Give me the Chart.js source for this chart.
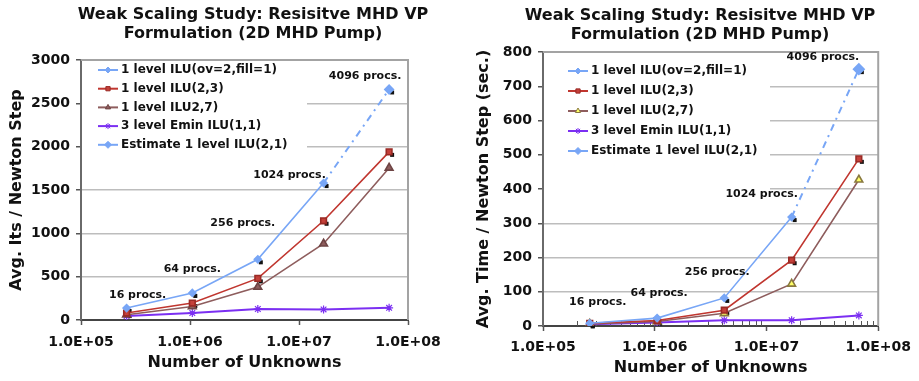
<!doctype html>
<html lang="en">
<head>
<meta charset="utf-8">
<title>Weak Scaling Study: Resisitve MHD VP Formulation</title>
<script src="https://cdn.jsdelivr.net/npm/chart.js"></script>
<style>
html, body { margin: 0; padding: 0; background: #ffffff; }
#wrap { position: relative; width: 919px; height: 381px; }
#left { position: absolute; left: 0; top: 0; }
#right { position: absolute; left: 460px; top: 0; }
</style>
</head>
<body>
<div id="wrap">
    <canvas id="left" width="460" height="381"></canvas>
    <canvas id="right" width="459" height="381"></canvas>
</div>
<script>
// shared data
const unknowns = [2.62e5, 1.05e6, 4.19e6, 1.68e7, 6.71e7];
const procLabels = ['16 procs.', '64 procs.', '256 procs.', '1024 procs.', '4096 procs.'];
const titleLines = ['Weak Scaling Study: Resisitve MHD VP', 'Formulation (2D MHD Pump)'];
const xTicks = [1e5, 1e6, 1e7, 1e8];
const xTitle = 'Number of Unknowns';

// left: iterations
const itsNames = ['1 level ILU(ov=2,fill=1)', '1 level ILU(2,3)', '1 level ILU2,7)', '3 level Emin ILU(1,1)', 'Estimate 1 level ILU(2,1)'];
const itsIlu21 = [138, 312, 700, 1580, null];
const itsIlu23 = [80, 196, 480, 1145, 1940];
const itsIlu27 = [60, 155, 380, 880, 1755];
const itsEmin = [45, 80, 127, 122, 140];
const itsEstimate = [null, null, null, 1580, 2660];
const itsTicks = [0, 500, 1000, 1500, 2000, 2500, 3000];

// right: time
const timeNames = ['1 level ILU(ov=2,fill=1)', '1 level ILU(2,3)', '1 level ILU(2,7)', '3 level Emin ILU(1,1)', 'Estimate 1 level ILU(2,1)'];
const timeIlu21 = [8, 23, 82, 318, null];
const timeIlu23 = [8, 16, 46, 192, 488];
const timeIlu27 = [6, 13, 37, 123, 427];
const timeEmin = [5, 10, 17, 17, 31];
const timeEstimate = [null, null, null, 318, 750];
const timeTicks = [0, 100, 200, 300, 400, 500, 600, 700, 800];

const FONT = '"DejaVu Sans", Verdana, sans-serif';
const INK = '#111111';
const BLUE = '#78a6f6';
const RED = '#c0362f';
const BROWN = '#8e5d5d';
const PURPLE = '#7b2ff2';

function xTickText(v) {
    const s = Number(v).toExponential(1).toUpperCase();
    return s.replace(/E([+-])(\d)$/, (m, sign, d) => 'E' + sign + '0' + d);
}

function pts(vals) {
    return unknowns.map((x, i) => ({ x: x, y: vals[i] }));
}

function makeChart(id, g) {
    const v = g.values;
    const datasets = [
        { label: g.names[0], data: pts(v[0]), borderColor: BLUE, backgroundColor: BLUE,
          pointStyle: 'rectRot', pointRadius: 3.5, borderWidth: 1.6, shadow: true },
        { label: g.names[1], data: pts(v[1]), borderColor: RED, backgroundColor: '#c4403a',
          pointBorderColor: '#9a2a25', pointStyle: 'rect', pointRadius: 4, borderWidth: 1.6, shadow: true },
        { label: g.names[2], data: pts(v[2]), borderColor: BROWN, backgroundColor: g.triFill,
          pointBorderColor: g.triBorder, pointStyle: 'triangle', pointRadius: 4.5, borderWidth: 1.6 },
        { label: g.names[3], data: pts(v[3]), borderColor: PURPLE, backgroundColor: PURPLE,
          pointStyle: 'star', pointRadius: 4, pointBorderWidth: 1.2, borderWidth: 2 },
        { label: g.names[4], data: pts(v[4]), borderColor: BLUE, backgroundColor: BLUE,
          pointStyle: 'rectRot', pointRadius: [0, 0, 0, 0, g.estRadius], borderWidth: 2,
          borderDash: [7, 5, 2, 5], shadow: true }
    ];

    const decor = {
        id: 'decor',
        beforeDatasetsDraw(chart) {
            const ctx = chart.ctx;
            const a = chart.chartArea;
            const xs = chart.scales.x;
            ctx.save();
            // legend background covers the grid
            ctx.fillStyle = '#ffffff';
            ctx.fillRect(g.legBox[0], g.legBox[1], g.legBox[2], g.legBox[3]);
            // plot frame, top and right
            ctx.strokeStyle = '#a3a3a3';
            ctx.lineWidth = 2;
            ctx.beginPath();
            ctx.moveTo(a.left, a.top);
            ctx.lineTo(a.right, a.top);
            ctx.lineTo(a.right, a.bottom);
            ctx.stroke();
            // minor log ticks
            if (g.minorTicks) {
                ctx.strokeStyle = '#555555';
                ctx.lineWidth = 1;
                ctx.beginPath();
                xTicks.slice(0, -1).forEach(d => {
                    for (let k = 2; k <= 9; k++) {
                        const px = Math.round(xs.getPixelForValue(k * d)) + 0.5;
                        ctx.moveTo(px, a.bottom);
                        ctx.lineTo(px, a.bottom - 5);
                    }
                });
                ctx.stroke();
            }
            // dark marks behind some markers
            ctx.fillStyle = '#111111';
            chart.data.datasets.forEach((ds, di) => {
                if (!ds.shadow) return;
                chart.getDatasetMeta(di).data.forEach((el, i) => {
                    if (ds.data[i].y == null || el.skip) return;
                    if (di === 4 && i < 4) return;
                    ctx.fillRect(el.x + 1, el.y + 1, 4, 4);
                });
            });
            // legend
            ctx.font = 'bold 12px ' + FONT;
            ctx.textBaseline = 'middle';
            ctx.textAlign = 'left';
            chart.data.datasets.forEach((ds, di) => {
                const y = g.legY + di * g.legDy;
                ctx.strokeStyle = ds.borderColor;
                ctx.lineWidth = 2;
                ctx.setLineDash([]);
                ctx.beginPath();
                ctx.moveTo(g.legX, y);
                ctx.lineTo(g.legX + 20, y);
                ctx.stroke();
                ctx.fillStyle = ds.backgroundColor;
                ctx.strokeStyle = ds.pointBorderColor || ds.borderColor;
                ctx.lineWidth = 1;
                Chart.helpers.drawPoint(ctx, {
                    pointStyle: ds.pointStyle,
                    radius: di === 4 ? 3.5 : 3,
                    borderWidth: 1,
                    rotation: 0
                }, g.legX + 10, y);
                ctx.fillStyle = INK;
                ctx.fillText(ds.label, g.legX + 23, y);
            });
            ctx.restore();
        },
        afterDatasetsDraw(chart) {
            const ctx = chart.ctx;
            const xs = chart.scales.x;
            const ys = chart.scales.y;
            ctx.save();
            ctx.font = 'bold 11px ' + FONT;
            ctx.fillStyle = INK;
            ctx.textAlign = 'center';
            ctx.textBaseline = 'middle';
            procLabels.forEach((t, i) => {
                const yv = v[0][i] != null ? v[0][i] : v[4][i];
                const px = xs.getPixelForValue(unknowns[i]);
                const py = ys.getPixelForValue(yv);
                ctx.fillText(t, px + g.labelOff[i][0], py + g.labelOff[i][1]);
            });
            // chart title
            ctx.font = 'bold 16px ' + FONT;
            titleLines.forEach((t, i) => ctx.fillText(t, g.titleX, g.titleY + i * 19));
            ctx.restore();
        }
    };

    return new Chart(document.getElementById(id), {
        type: 'line',
        data: { datasets: datasets },
        options: {
            responsive: false,
            animation: false,
            layout: { padding: { top: g.top, right: g.right, left: 0, bottom: 0 } },
            elements: { line: { tension: 0 }, point: { borderWidth: 1 } },
            plugins: {
                legend: { display: false },
                tooltip: { enabled: false },
                title: { display: false }
            },
            scales: {
                x: {
                    type: 'logarithmic',
                    min: 1e5,
                    max: 1e8,
                    afterBuildTicks: s => { s.ticks = xTicks.map(t => ({ value: t })); },
                    afterFit: s => { s.height = g.xh; },
                    ticks: { callback: xTickText, autoSkip: false, maxRotation: 0,
                             font: { family: FONT, size: 14, weight: 'bold' }, color: INK, padding: g.xTickPad },
                    grid: { drawOnChartArea: false, tickLength: 5, tickColor: '#555555', tickWidth: 1.5 },
                    border: { color: '#444444', width: 2 },
                    title: { display: true, text: xTitle, color: INK,
                             font: { family: FONT, size: 16, weight: 'bold' },
                             padding: { top: 0, bottom: g.xTitlePad } }
                },
                y: {
                    min: 0,
                    max: g.ticks[g.ticks.length - 1],
                    afterBuildTicks: s => { s.ticks = g.ticks.map(t => ({ value: t })); },
                    afterFit: s => { s.width = g.yw; },
                    ticks: { callback: t => String(t), font: { family: FONT, size: 14, weight: 'bold' },
                             color: INK, padding: 6 },
                    grid: { color: '#bdbdbd', lineWidth: 1.5, tickLength: 5, tickColor: '#555555', tickWidth: 1.5 },
                    border: { color: '#6a6a6a', width: 2 },
                    title: { display: true, text: g.yTitle, color: INK,
                             font: { family: FONT, size: 16, weight: 'bold' },
                             padding: { top: g.yTitlePad, bottom: 0 } }
                }
            }
        },
        plugins: [decor]
    });
}

makeChart('left', {
    names: itsNames,
    values: [itsIlu21, itsIlu23, itsIlu27, itsEmin, itsEstimate],
    ticks: itsTicks,
    yTitle: 'Avg. Its / Newton Step',
    top: 60, right: 52, yw: 81, xh: 61,
    xTickPad: 9, xTitlePad: 9, yTitlePad: 7,
    triFill: BROWN, triBorder: '#6e4444',
    estRadius: 4,
    minorTicks: false,
    legBox: [82, 61, 225, 99],
    legX: 98, legY: 70, legDy: 18.7,
    labelOff: [[11, -13], [0, -24], [-15, -36], [-34, -8], [-24, -13]],
    titleX: 253, titleY: 15
});

makeChart('right', {
    names: timeNames,
    values: [timeIlu21, timeIlu23, timeIlu27, timeEmin, timeEstimate],
    ticks: timeTicks,
    yTitle: 'Avg. Time / Newton Step (sec.)',
    top: 52, right: 34, yw: 83, xh: 55,
    xTickPad: 8, xTitlePad: 4, yTitlePad: 14,
    triFill: '#ffff66', triBorder: '#8a7a40',
    estRadius: 5,
    minorTicks: true,
    legBox: [84, 53, 226, 138],
    legX: 108, legY: 71, legDy: 20,
    labelOff: [[8, -21], [2, -25], [-7, -26], [-30, -23], [-36, -12]],
    titleX: 240, titleY: 16
});
</script>
</body>
</html>
